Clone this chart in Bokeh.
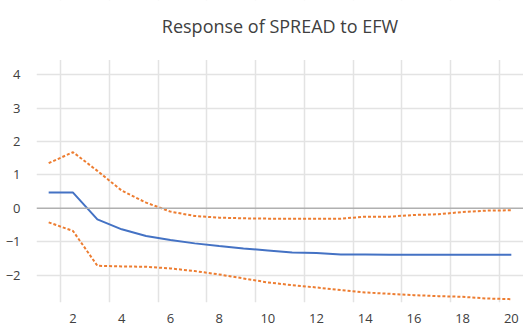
from bokeh.plotting import figure
from bokeh.models import FixedTicker, Span, Range1d, Label, BoxAnnotation
from bokeh.embed import file_html
from bokeh.resources import INLINE

periods = list(range(1, 21))
response = [0.47, 0.47, -0.33, -0.63, -0.83, -0.95, -1.05, -1.13, -1.20, -1.26,
            -1.32, -1.34, -1.38, -1.38, -1.39, -1.39, -1.39, -1.39, -1.39, -1.39]
upper = [1.35, 1.68, 1.12, 0.53, 0.17, -0.10, -0.23, -0.28, -0.30, -0.31,
         -0.31, -0.31, -0.31, -0.25, -0.25, -0.20, -0.18, -0.11, -0.07, -0.06]
lower = [-0.42, -0.68, -1.72, -1.74, -1.75, -1.80, -1.88, -1.98, -2.10, -2.22,
         -2.30, -2.37, -2.45, -2.52, -2.56, -2.60, -2.63, -2.65, -2.70, -2.72]
x_tick_labels = [2, 4, 6, 8, 10, 12, 14, 16, 18, 20]
y_ticks = [-2, -1, 0, 1, 2, 3, 4]
title_text = "Response of SPREAD to EFW"

# plot area top of the Excel chart (value units); above it is the title space
plot_top = 4.44

p = figure(width=523, height=331, output_backend="svg", toolbar_location=None,
           title_location=None,
           x_range=Range1d(0.5, 20.5), y_range=Range1d(-2.82, 6.22),
           min_border_left=36, min_border_right=0, min_border_top=0,
           min_border_bottom=29)
p.outline_line_color = None
p.background_fill_color = "white"
p.border_fill_color = "white"

# axes
p.xaxis.ticker = FixedTicker(ticks=x_tick_labels)
p.yaxis.ticker = FixedTicker(ticks=y_ticks)
for ax in (p.xaxis[0], p.yaxis[0]):
    ax.axis_line_color = None
    ax.major_tick_line_color = None
    ax.minor_tick_line_color = None
    ax.major_label_text_font = "Open Sans"
    ax.major_label_text_font_size = "13px"
    ax.major_label_text_color = "#404040"
p.xaxis.major_label_standoff = 5
p.yaxis.major_label_standoff = 10

# grids
p.xgrid.ticker = FixedTicker(ticks=[x + 0.5 for x in range(1, 20, 2)])
p.xgrid.grid_line_color = "#e3e3e3"
p.xgrid.grid_line_width = 1.5
p.ygrid.ticker = FixedTicker(ticks=[t for t in y_ticks if t != 0])
p.ygrid.grid_line_color = "#e3e3e3"
p.ygrid.grid_line_width = 1.5

p.add_layout(Span(location=0, dimension="width", line_color="#b0b0b0", line_width=1.5))

p.line(periods, upper, line_color="#ED7D31", line_width=2, line_dash="3 2")
p.line(periods, lower, line_color="#ED7D31", line_width=2, line_dash="3 2")
p.line(periods, response, line_color="#4472C4", line_width=2)

# blank title area above the plot area, then the title text
p.add_layout(BoxAnnotation(bottom=plot_top, fill_color="white", fill_alpha=1.0,
                           line_color=None))
p.add_layout(Label(x=10.5, y=5.47, text=title_text, text_align="center",
                   text_baseline="alphabetic", text_font="Open Sans",
                   text_font_size="18px", text_color="#404040"))

open("out.html", "w").write(file_html(p, INLINE))
